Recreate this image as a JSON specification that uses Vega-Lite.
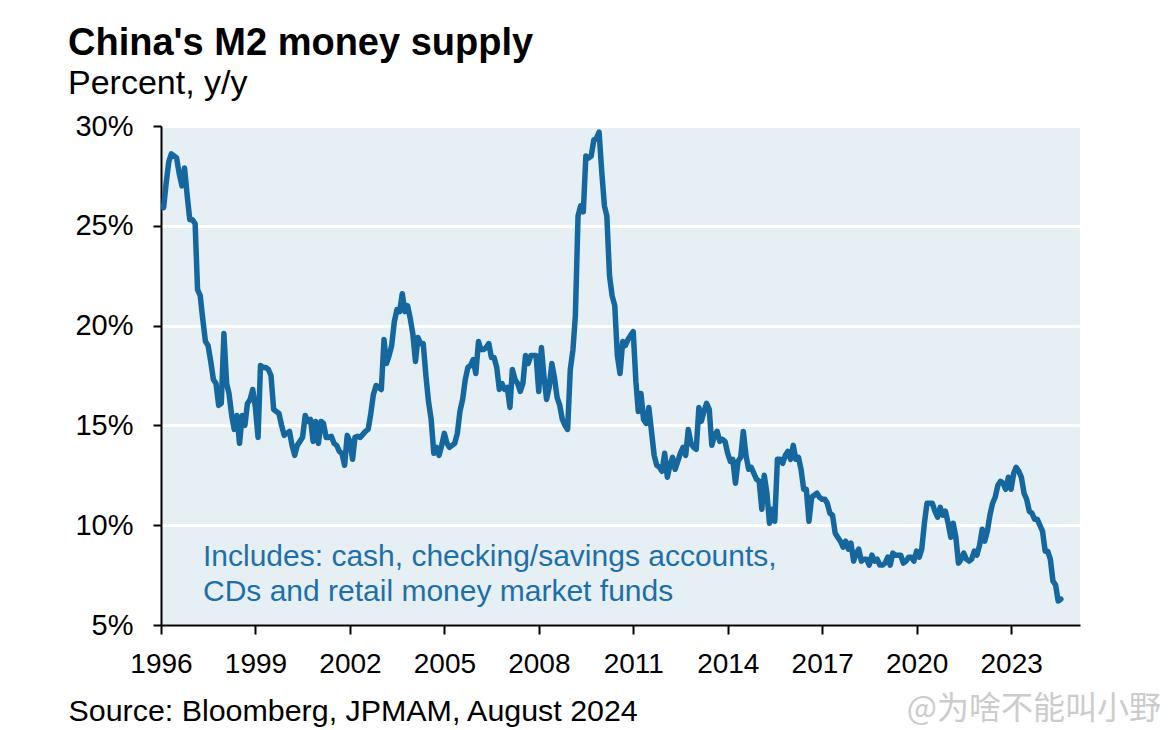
{
  "$schema": "https://vega.github.io/schema/vega-lite/v6.json",
  "width": 919,
  "height": 499,
  "autosize": {"type": "none"},
  "padding": {"left": 161, "top": 126, "right": 89, "bottom": 105},
  "background": "white",
  "title": {
    "text": "China's M2 money supply",
    "subtitle": "Percent, y/y",
    "anchor": "start",
    "frame": "group",
    "dx": -93,
    "offset": 11,
    "font": "Liberation Sans",
    "fontSize": 38,
    "fontWeight": "bold",
    "color": "black",
    "subtitleFont": "Liberation Sans",
    "subtitleFontSize": 34,
    "subtitleColor": "black",
    "subtitlePadding": 4
  },
  "config": {
    "view": {"fill": "#e6eff4", "stroke": null}
  },
  "datasets": {
    "m2": [
      {"date":"1996-01-31","m2":25.9},{"date":"1996-02-29","m2":27.1},{"date":"1996-03-31","m2":28.2},{"date":"1996-04-30","m2":28.6},{"date":"1996-05-31","m2":28.5},{"date":"1996-06-30","m2":28.4},{"date":"1996-07-31","m2":27.6},{"date":"1996-08-31","m2":27.0},{"date":"1996-09-30","m2":27.9},{"date":"1996-10-31","m2":26.5},{"date":"1996-11-30","m2":25.3},{"date":"1996-12-31","m2":25.3},
      {"date":"1997-01-31","m2":25.1},{"date":"1997-02-28","m2":21.8},{"date":"1997-03-31","m2":21.5},{"date":"1997-04-30","m2":20.3},{"date":"1997-05-31","m2":19.2},{"date":"1997-06-30","m2":19.0},{"date":"1997-07-31","m2":18.2},{"date":"1997-08-31","m2":17.3},{"date":"1997-09-30","m2":17.1},{"date":"1997-10-31","m2":16.0},{"date":"1997-11-30","m2":16.1},{"date":"1997-12-31","m2":19.6},
      {"date":"1998-01-31","m2":17.1},{"date":"1998-02-28","m2":16.6},{"date":"1998-03-31","m2":15.5},{"date":"1998-04-30","m2":14.8},{"date":"1998-05-31","m2":15.5},{"date":"1998-06-30","m2":14.1},{"date":"1998-07-31","m2":15.5},{"date":"1998-08-31","m2":15.0},{"date":"1998-09-30","m2":16.1},{"date":"1998-10-31","m2":16.3},{"date":"1998-11-30","m2":16.8},{"date":"1998-12-31","m2":15.9},
      {"date":"1999-01-31","m2":14.4},{"date":"1999-02-28","m2":18.0},{"date":"1999-03-31","m2":17.9},{"date":"1999-04-30","m2":17.9},{"date":"1999-05-31","m2":17.8},{"date":"1999-06-30","m2":17.5},{"date":"1999-07-31","m2":15.8},{"date":"1999-08-31","m2":15.7},{"date":"1999-09-30","m2":15.6},{"date":"1999-10-31","m2":15.0},{"date":"1999-11-30","m2":14.5},{"date":"1999-12-31","m2":14.6},
      {"date":"2000-01-31","m2":14.7},{"date":"2000-02-29","m2":14.0},{"date":"2000-03-31","m2":13.5},{"date":"2000-04-30","m2":14.0},{"date":"2000-05-31","m2":14.2},{"date":"2000-06-30","m2":14.4},{"date":"2000-07-31","m2":15.5},{"date":"2000-08-31","m2":15.2},{"date":"2000-09-30","m2":15.3},{"date":"2000-10-31","m2":14.2},{"date":"2000-11-30","m2":15.2},{"date":"2000-12-31","m2":14.1},
      {"date":"2001-01-31","m2":15.2},{"date":"2001-02-28","m2":15.1},{"date":"2001-03-31","m2":14.4},{"date":"2001-04-30","m2":14.4},{"date":"2001-05-31","m2":14.45},{"date":"2001-06-30","m2":14.1},{"date":"2001-07-31","m2":14.0},{"date":"2001-08-31","m2":13.7},{"date":"2001-09-30","m2":13.6},{"date":"2001-10-31","m2":13.0},{"date":"2001-11-30","m2":14.5},{"date":"2001-12-31","m2":14.2},
      {"date":"2002-01-31","m2":13.3},{"date":"2002-02-28","m2":14.4},{"date":"2002-03-31","m2":14.45},{"date":"2002-04-30","m2":14.4},{"date":"2002-05-31","m2":14.55},{"date":"2002-06-30","m2":14.7},{"date":"2002-07-31","m2":14.8},{"date":"2002-08-31","m2":15.6},{"date":"2002-09-30","m2":16.55},{"date":"2002-10-31","m2":17.0},{"date":"2002-11-30","m2":16.9},{"date":"2002-12-31","m2":16.8},
      {"date":"2003-01-31","m2":19.3},{"date":"2003-02-28","m2":18.1},{"date":"2003-03-31","m2":18.5},{"date":"2003-04-30","m2":19.0},{"date":"2003-05-31","m2":20.2},{"date":"2003-06-30","m2":20.8},{"date":"2003-07-31","m2":20.7},{"date":"2003-08-31","m2":21.6},{"date":"2003-09-30","m2":20.7},{"date":"2003-10-31","m2":21.0},{"date":"2003-11-30","m2":20.4},{"date":"2003-12-31","m2":19.6},
      {"date":"2004-01-31","m2":18.2},{"date":"2004-02-29","m2":19.4},{"date":"2004-03-31","m2":19.1},{"date":"2004-04-30","m2":19.1},{"date":"2004-05-31","m2":17.5},{"date":"2004-06-30","m2":16.2},{"date":"2004-07-31","m2":15.3},{"date":"2004-08-31","m2":13.6},{"date":"2004-09-30","m2":13.9},{"date":"2004-10-31","m2":13.5},{"date":"2004-11-30","m2":14.0},{"date":"2004-12-31","m2":14.6},
      {"date":"2005-01-31","m2":14.1},{"date":"2005-02-28","m2":13.9},{"date":"2005-03-31","m2":14.0},{"date":"2005-04-30","m2":14.1},{"date":"2005-05-31","m2":14.6},{"date":"2005-06-30","m2":15.7},{"date":"2005-07-31","m2":16.3},{"date":"2005-08-31","m2":17.3},{"date":"2005-09-30","m2":17.9},{"date":"2005-10-31","m2":18.0},{"date":"2005-11-30","m2":18.3},{"date":"2005-12-31","m2":17.6},
      {"date":"2006-01-31","m2":19.2},{"date":"2006-02-28","m2":18.8},{"date":"2006-03-31","m2":18.8},{"date":"2006-04-30","m2":18.9},{"date":"2006-05-31","m2":19.1},{"date":"2006-06-30","m2":18.4},{"date":"2006-07-31","m2":18.4},{"date":"2006-08-31","m2":17.9},{"date":"2006-09-30","m2":16.8},{"date":"2006-10-31","m2":17.1},{"date":"2006-11-30","m2":16.8},{"date":"2006-12-31","m2":16.9},
      {"date":"2007-01-31","m2":15.9},{"date":"2007-02-28","m2":17.8},{"date":"2007-03-31","m2":17.3},{"date":"2007-04-30","m2":17.1},{"date":"2007-05-31","m2":16.7},{"date":"2007-06-30","m2":17.1},{"date":"2007-07-31","m2":18.5},{"date":"2007-08-31","m2":18.1},{"date":"2007-09-30","m2":18.5},{"date":"2007-10-31","m2":18.5},{"date":"2007-11-30","m2":18.5},{"date":"2007-12-31","m2":16.7},
      {"date":"2008-01-31","m2":18.9},{"date":"2008-02-29","m2":17.5},{"date":"2008-03-31","m2":16.3},{"date":"2008-04-30","m2":16.9},{"date":"2008-05-31","m2":18.1},{"date":"2008-06-30","m2":17.4},{"date":"2008-07-31","m2":16.4},{"date":"2008-08-31","m2":16.0},{"date":"2008-09-30","m2":15.3},{"date":"2008-10-31","m2":15.0},{"date":"2008-11-30","m2":14.8},{"date":"2008-12-31","m2":17.8},
      {"date":"2009-01-31","m2":18.8},{"date":"2009-02-28","m2":20.5},{"date":"2009-03-31","m2":25.5},{"date":"2009-04-30","m2":26.0},{"date":"2009-05-31","m2":25.7},{"date":"2009-06-30","m2":28.5},{"date":"2009-07-31","m2":28.4},{"date":"2009-08-31","m2":28.5},{"date":"2009-09-30","m2":29.3},{"date":"2009-10-31","m2":29.4},{"date":"2009-11-30","m2":29.7},{"date":"2009-12-31","m2":27.7},
      {"date":"2010-01-31","m2":26.0},{"date":"2010-02-28","m2":25.5},{"date":"2010-03-31","m2":22.5},{"date":"2010-04-30","m2":21.5},{"date":"2010-05-31","m2":21.0},{"date":"2010-06-30","m2":18.5},{"date":"2010-07-31","m2":17.6},{"date":"2010-08-31","m2":19.2},{"date":"2010-09-30","m2":19.0},{"date":"2010-10-31","m2":19.3},{"date":"2010-11-30","m2":19.5},{"date":"2010-12-31","m2":19.7},
      {"date":"2011-01-31","m2":17.2},{"date":"2011-02-28","m2":15.7},{"date":"2011-03-31","m2":16.6},{"date":"2011-04-30","m2":15.3},{"date":"2011-05-31","m2":15.1},{"date":"2011-06-30","m2":15.9},{"date":"2011-07-31","m2":14.7},{"date":"2011-08-31","m2":13.5},{"date":"2011-09-30","m2":13.0},{"date":"2011-10-31","m2":12.9},{"date":"2011-11-30","m2":12.7},{"date":"2011-12-31","m2":13.6},
      {"date":"2012-01-31","m2":12.4},{"date":"2012-02-29","m2":13.0},{"date":"2012-03-31","m2":13.4},{"date":"2012-04-30","m2":12.8},{"date":"2012-05-31","m2":13.2},{"date":"2012-06-30","m2":13.6},{"date":"2012-07-31","m2":13.9},{"date":"2012-08-31","m2":13.5},{"date":"2012-09-30","m2":14.8},{"date":"2012-10-31","m2":14.1},{"date":"2012-11-30","m2":13.9},{"date":"2012-12-31","m2":13.8},
      {"date":"2013-01-31","m2":15.9},{"date":"2013-02-28","m2":15.2},{"date":"2013-03-31","m2":15.7},{"date":"2013-04-30","m2":16.1},{"date":"2013-05-31","m2":15.8},{"date":"2013-06-30","m2":14.0},{"date":"2013-07-31","m2":14.5},{"date":"2013-08-31","m2":14.7},{"date":"2013-09-30","m2":14.2},{"date":"2013-10-31","m2":14.3},{"date":"2013-11-30","m2":14.2},{"date":"2013-12-31","m2":13.6},
      {"date":"2014-01-31","m2":13.2},{"date":"2014-02-28","m2":13.3},{"date":"2014-03-31","m2":12.1},{"date":"2014-04-30","m2":13.2},{"date":"2014-05-31","m2":13.4},{"date":"2014-06-30","m2":14.7},{"date":"2014-07-31","m2":13.5},{"date":"2014-08-31","m2":12.8},{"date":"2014-09-30","m2":12.9},{"date":"2014-10-31","m2":12.6},{"date":"2014-11-30","m2":12.3},{"date":"2014-12-31","m2":12.2},
      {"date":"2015-01-31","m2":10.8},{"date":"2015-02-28","m2":12.5},{"date":"2015-03-31","m2":11.6},{"date":"2015-04-30","m2":10.1},{"date":"2015-05-31","m2":10.8},{"date":"2015-06-30","m2":10.2},{"date":"2015-07-31","m2":13.3},{"date":"2015-08-31","m2":13.3},{"date":"2015-09-30","m2":13.1},{"date":"2015-10-31","m2":13.5},{"date":"2015-11-30","m2":13.7},{"date":"2015-12-31","m2":13.3},
      {"date":"2016-01-31","m2":14.0},{"date":"2016-02-29","m2":13.3},{"date":"2016-03-31","m2":13.4},{"date":"2016-04-30","m2":12.8},{"date":"2016-05-31","m2":11.8},{"date":"2016-06-30","m2":11.8},{"date":"2016-07-31","m2":10.2},{"date":"2016-08-31","m2":11.4},{"date":"2016-09-30","m2":11.5},{"date":"2016-10-31","m2":11.6},{"date":"2016-11-30","m2":11.4},{"date":"2016-12-31","m2":11.3},
      {"date":"2017-01-31","m2":11.3},{"date":"2017-02-28","m2":11.1},{"date":"2017-03-31","m2":10.6},{"date":"2017-04-30","m2":10.5},{"date":"2017-05-31","m2":9.6},{"date":"2017-06-30","m2":9.4},{"date":"2017-07-31","m2":9.2},{"date":"2017-08-31","m2":8.9},{"date":"2017-09-30","m2":9.2},{"date":"2017-10-31","m2":8.8},{"date":"2017-11-30","m2":9.1},{"date":"2017-12-31","m2":8.2},
      {"date":"2018-01-31","m2":8.6},{"date":"2018-02-28","m2":8.8},{"date":"2018-03-31","m2":8.2},{"date":"2018-04-30","m2":8.3},{"date":"2018-05-31","m2":8.3},{"date":"2018-06-30","m2":8.0},{"date":"2018-07-31","m2":8.5},{"date":"2018-08-31","m2":8.2},{"date":"2018-09-30","m2":8.3},{"date":"2018-10-31","m2":8.0},{"date":"2018-11-30","m2":8.0},{"date":"2018-12-31","m2":8.1},
      {"date":"2019-01-31","m2":8.4},{"date":"2019-02-28","m2":8.0},{"date":"2019-03-31","m2":8.6},{"date":"2019-04-30","m2":8.5},{"date":"2019-05-31","m2":8.5},{"date":"2019-06-30","m2":8.5},{"date":"2019-07-31","m2":8.1},{"date":"2019-08-31","m2":8.2},{"date":"2019-09-30","m2":8.4},{"date":"2019-10-31","m2":8.4},{"date":"2019-11-30","m2":8.2},{"date":"2019-12-31","m2":8.7},
      {"date":"2020-01-31","m2":8.4},{"date":"2020-02-29","m2":8.8},{"date":"2020-03-31","m2":10.1},{"date":"2020-04-30","m2":11.1},{"date":"2020-05-31","m2":11.1},{"date":"2020-06-30","m2":11.1},{"date":"2020-07-31","m2":10.7},{"date":"2020-08-31","m2":10.4},{"date":"2020-09-30","m2":10.9},{"date":"2020-10-31","m2":10.5},{"date":"2020-11-30","m2":10.7},{"date":"2020-12-31","m2":10.1},
      {"date":"2021-01-31","m2":9.4},{"date":"2021-02-28","m2":10.1},{"date":"2021-03-31","m2":9.4},{"date":"2021-04-30","m2":8.1},{"date":"2021-05-31","m2":8.3},{"date":"2021-06-30","m2":8.6},{"date":"2021-07-31","m2":8.3},{"date":"2021-08-31","m2":8.2},{"date":"2021-09-30","m2":8.3},{"date":"2021-10-31","m2":8.7},{"date":"2021-11-30","m2":8.5},{"date":"2021-12-31","m2":9.0},
      {"date":"2022-01-31","m2":9.8},{"date":"2022-02-28","m2":9.2},{"date":"2022-03-31","m2":9.7},{"date":"2022-04-30","m2":10.5},{"date":"2022-05-31","m2":11.1},{"date":"2022-06-30","m2":11.4},{"date":"2022-07-31","m2":12.0},{"date":"2022-08-31","m2":12.2},{"date":"2022-09-30","m2":12.1},{"date":"2022-10-31","m2":11.8},{"date":"2022-11-30","m2":12.4},{"date":"2022-12-31","m2":11.8},
      {"date":"2023-01-31","m2":12.6},{"date":"2023-02-28","m2":12.9},{"date":"2023-03-31","m2":12.7},{"date":"2023-04-30","m2":12.4},{"date":"2023-05-31","m2":11.6},{"date":"2023-06-30","m2":11.3},{"date":"2023-07-31","m2":10.7},{"date":"2023-08-31","m2":10.6},{"date":"2023-09-30","m2":10.3},{"date":"2023-10-31","m2":10.3},{"date":"2023-11-30","m2":10.0},{"date":"2023-12-31","m2":9.7},
      {"date":"2024-01-31","m2":8.7},{"date":"2024-02-29","m2":8.7},{"date":"2024-03-31","m2":8.3},{"date":"2024-04-30","m2":7.2},{"date":"2024-05-31","m2":7.0},{"date":"2024-06-30","m2":6.2},{"date":"2024-07-31","m2":6.3}
    ]
  },
  "layer": [
    {
      "data": {"name": "m2"},
      "mark": {"type": "line", "color": "#15679f", "strokeWidth": 5.5, "strokeJoin": "round", "strokeCap": "round"},
      "encoding": {
        "x": {
          "field": "date",
          "type": "temporal",
          "scale": {"domain": [{"year": 1996, "month": 1, "date": 1}, {"year": 2025, "month": 3, "date": 10}]},
          "axis": {
            "values": [{"year": 1996}, {"year": 1999}, {"year": 2002}, {"year": 2005}, {"year": 2008}, {"year": 2011}, {"year": 2014}, {"year": 2017}, {"year": 2020}, {"year": 2023}],
            "format": "%Y",
            "grid": false,
            "zindex": 1,
            "labelFont": "Liberation Sans",
            "labelFontSize": 28,
            "labelColor": "black",
            "labelPadding": 16,
            "labelFlush": false,
            "labelOverlap": false,
            "tickSize": 9,
            "tickWidth": 2,
            "tickColor": "black",
            "domainColor": "black",
            "domainWidth": 2,
            "title": "Source: Bloomberg, JPMAM, August 2024",
            "titleFont": "Liberation Sans",
            "titleFontSize": 30.4,
            "titleFontWeight": "normal",
            "titleColor": "black",
            "titleAlign": "left",
            "titleAnchor": "start",
            "titleBaseline": "alphabetic",
            "titleX": -93,
            "titleY": 95
          }
        },
        "y": {
          "field": "m2",
          "type": "quantitative",
          "scale": {"domain": [5, 30], "nice": false, "zero": false},
          "axis": {
            "values": [5, 10, 15, 20, 25, 30],
            "labelExpr": "datum.value + '%'",
            "labelFont": "Liberation Sans",
            "labelFontSize": 29,
            "labelColor": "black",
            "labelPadding": 20,
            "tickSize": 8,
            "tickWidth": 2,
            "tickColor": "black",
            "domainColor": "black",
            "domainWidth": 2,
            "grid": true,
            "gridColor": "white",
            "gridWidth": 3,
            "title": null
          }
        }
      }
    },
    {
      "data": {"values": [{"note": "M2 definition"}]},
      "mark": {
        "type": "text",
        "text": "Includes: cash, checking/savings accounts,\nCDs and retail money market funds",
        "lineBreak": "\n",
        "lineHeight": 35,
        "align": "left",
        "baseline": "alphabetic",
        "font": "Liberation Sans",
        "fontSize": 30,
        "color": "#1c70aa"
      },
      "encoding": {
        "x": {"datum": {"year": 1997, "month": 5, "date": 2}, "type": "temporal"},
        "y": {"datum": 7.96, "type": "quantitative"}
      }
    },
    {
      "data": {"values": [{"note": "watermark"}]},
      "mark": {
        "type": "text",
        "text": "@为啥不能叫小野",
        "align": "right",
        "baseline": "alphabetic",
        "font": "Noto Sans CJK SC",
        "fontSize": 32,
        "color": "#cccccc"
      },
      "encoding": {
        "x": {"datum": {"year": 2027, "month": 10, "date": 5}, "type": "temporal"},
        "y": {"datum": 0.3, "type": "quantitative"}
      }
    }
  ]
}
